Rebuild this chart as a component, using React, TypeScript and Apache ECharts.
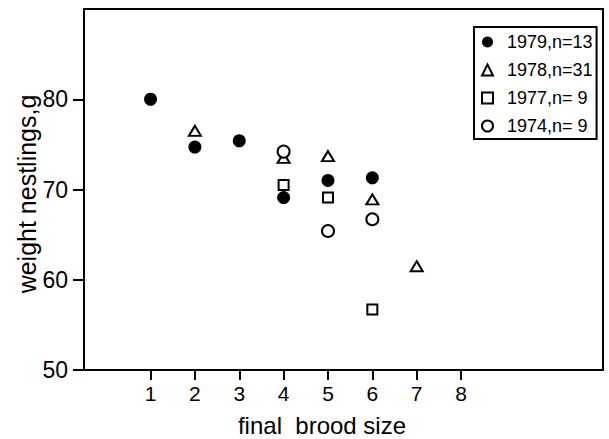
import React, { useEffect, useRef } from "react";
import * as echarts from "echarts";

const seriesNames = ["1979,n=13", "1978,n=31", "1977,n= 9", "1974,n= 9"];
const broodSize1979 = [1, 2, 3, 4, 5, 6];
const weight1979 = [80.0, 74.7, 75.4, 69.1, 71.0, 71.3];
const broodSize1978 = [2, 4, 5, 6, 7];
const weight1978 = [76.5, 73.5, 73.7, 68.9, 61.5];
const broodSize1977 = [4, 5, 6];
const weight1977 = [70.5, 69.1, 56.7];
const broodSize1974 = [4, 5, 6];
const weight1974 = [74.2, 65.4, 66.7];
const xTicks = [1, 2, 3, 4, 5, 6, 7, 8];
const yTicks = [50, 60, 70, 80];
const xMin = -0.5;
const xMax = 11.2;
const yMin = 50;
const yMax = 90;
const xTitle = "final  brood size";
const yTitle = "weight nestlings,g";

const FONT = '"Liberation Sans", Arial, sans-serif';

const W = 609;
const H = 439;
const G_LEFT = 84;
const G_TOP = 9;
const G_RIGHT = 6;
const G_BOTTOM = 69;

function pairs(xs: number[], ys: number[]) {
  return xs.map((x, i) => [x, ys[i]]);
}

export default function App() {
  const ref = useRef<HTMLDivElement>(null);
  useEffect(() => {
    if (!ref.current) return;
    const chart = echarts.init(ref.current, null, { renderer: "svg" });
    const openStyle = { color: "#fff", borderColor: "#000", borderWidth: 2, opacity: 1 };

    // thin helper strips carrying the tick marks, aligned with the main scales
    const gw = W - G_LEFT - G_RIGHT;
    const gh = H - G_TOP - G_BOTTOM;
    const xFirst = xTicks[0];
    const xLast = xTicks[xTicks.length - 1];
    const xStripLeft = G_LEFT + ((xFirst - xMin) / (xMax - xMin)) * gw;
    const xStripRight = W - (G_LEFT + ((xLast - xMin) / (xMax - xMin)) * gw);
    const yFirst = yTicks[0];
    const yLast = yTicks[yTicks.length - 1];
    const yStripTop = G_TOP + ((yMax - yLast) / (yMax - yMin)) * gh;
    const yStripBottom = H - (G_TOP + ((yMax - yFirst) / (yMax - yMin)) * gh);

    const hiddenAxis = {
      show: false,
      type: "value",
      min: 0,
      max: 1,
      splitLine: { show: false },
    };
    const tickLine = { color: "#000", width: 2 };

    chart.setOption({
      animation: false,
      backgroundColor: "#fff",
      grid: [
        {
          left: G_LEFT,
          top: G_TOP,
          right: G_RIGHT,
          bottom: G_BOTTOM,
          show: true,
          borderColor: "#000",
          borderWidth: 2,
          outerBoundsMode: "none",
        },
        {
          left: xStripLeft,
          right: xStripRight,
          top: H - G_BOTTOM - 10,
          bottom: G_BOTTOM,
          outerBoundsMode: "none",
        },
        {
          left: G_LEFT,
          right: G_RIGHT,
          top: yStripTop,
          bottom: yStripBottom,
          outerBoundsMode: "none",
        },
      ],
      xAxis: [
        {
          gridIndex: 0,
          type: "value",
          min: xMin,
          max: xMax,
          splitLine: { show: false },
          axisLine: { onZero: false, lineStyle: { color: "#000", width: 2 } },
          axisTick: { show: false },
          axisLabel: {
            customValues: xTicks,
            margin: 13,
            color: "#000",
            fontSize: 21,
            fontFamily: FONT,
          },
        },
        {
          gridIndex: 1,
          type: "value",
          position: "bottom",
          min: xFirst,
          max: xLast,
          interval: 1,
          splitLine: { show: false },
          axisLine: { show: false, onZero: false },
          axisLabel: { show: false },
          axisTick: { show: true, inside: false, length: 10, lineStyle: tickLine },
        },
        { ...hiddenAxis, gridIndex: 2 },
      ],
      yAxis: [
        {
          gridIndex: 0,
          type: "value",
          min: yMin,
          max: yMax,
          interval: 10,
          splitLine: { show: false },
          axisLine: { onZero: false, lineStyle: { color: "#000", width: 2 } },
          axisTick: { show: false },
          axisLabel: {
            customValues: yTicks,
            margin: 16,
            color: "#000",
            fontSize: 23,
            fontFamily: FONT,
          },
        },
        { ...hiddenAxis, gridIndex: 1 },
        {
          gridIndex: 2,
          type: "value",
          position: "left",
          min: yFirst,
          max: yLast,
          interval: 10,
          splitLine: { show: false },
          axisLine: { show: false, onZero: false },
          axisLabel: { show: false },
          axisTick: { show: true, inside: false, length: 11, lineStyle: tickLine },
        },
      ],
      legend: {
        orient: "vertical",
        left: 474,
        top: 27,
        backgroundColor: "#fff",
        borderColor: "#000",
        borderWidth: 2,
        borderRadius: 0,
        padding: [6, 4, 4, 7],
        itemGap: 10,
        itemWidth: 11,
        itemHeight: 11,
        textStyle: {
          color: "#000",
          fontSize: 18,
          fontFamily: FONT,
          lineHeight: 18,
          padding: [0, 0, 0, 9],
        },
        data: seriesNames,
      },
      graphic: [
        {
          type: "text",
          x: 322,
          y: 425,
          style: {
            text: xTitle,
            font: `24px ${FONT}`,
            fill: "#000",
            textAlign: "center",
            textVerticalAlign: "middle",
          },
        },
        {
          type: "text",
          x: 27,
          y: 194,
          rotation: Math.PI / 2,
          style: {
            text: yTitle,
            font: `25px ${FONT}`,
            fill: "#000",
            textAlign: "center",
            textVerticalAlign: "middle",
          },
        },
      ],
      series: [
        {
          name: seriesNames[0],
          type: "scatter",
          symbol: "circle",
          symbolSize: 13,
          itemStyle: { color: "#000", opacity: 1 },
          data: pairs(broodSize1979, weight1979),
        },
        {
          name: seriesNames[1],
          type: "scatter",
          symbol: "triangle",
          symbolSize: [12, 10],
          itemStyle: openStyle,
          data: pairs(broodSize1978, weight1978),
        },
        {
          name: seriesNames[2],
          type: "scatter",
          symbol: "rect",
          symbolSize: 10,
          itemStyle: openStyle,
          data: pairs(broodSize1977, weight1977),
        },
        {
          name: seriesNames[3],
          type: "scatter",
          symbol: "circle",
          symbolSize: 12,
          itemStyle: openStyle,
          data: pairs(broodSize1974, weight1974),
        },
      ],
    });
    return () => chart.dispose();
  }, []);
  return (
    <div
      ref={ref}
      style={{ position: "fixed", left: 0, top: 0, width: W, height: H, background: "#fff" }}
    />
  );
}
